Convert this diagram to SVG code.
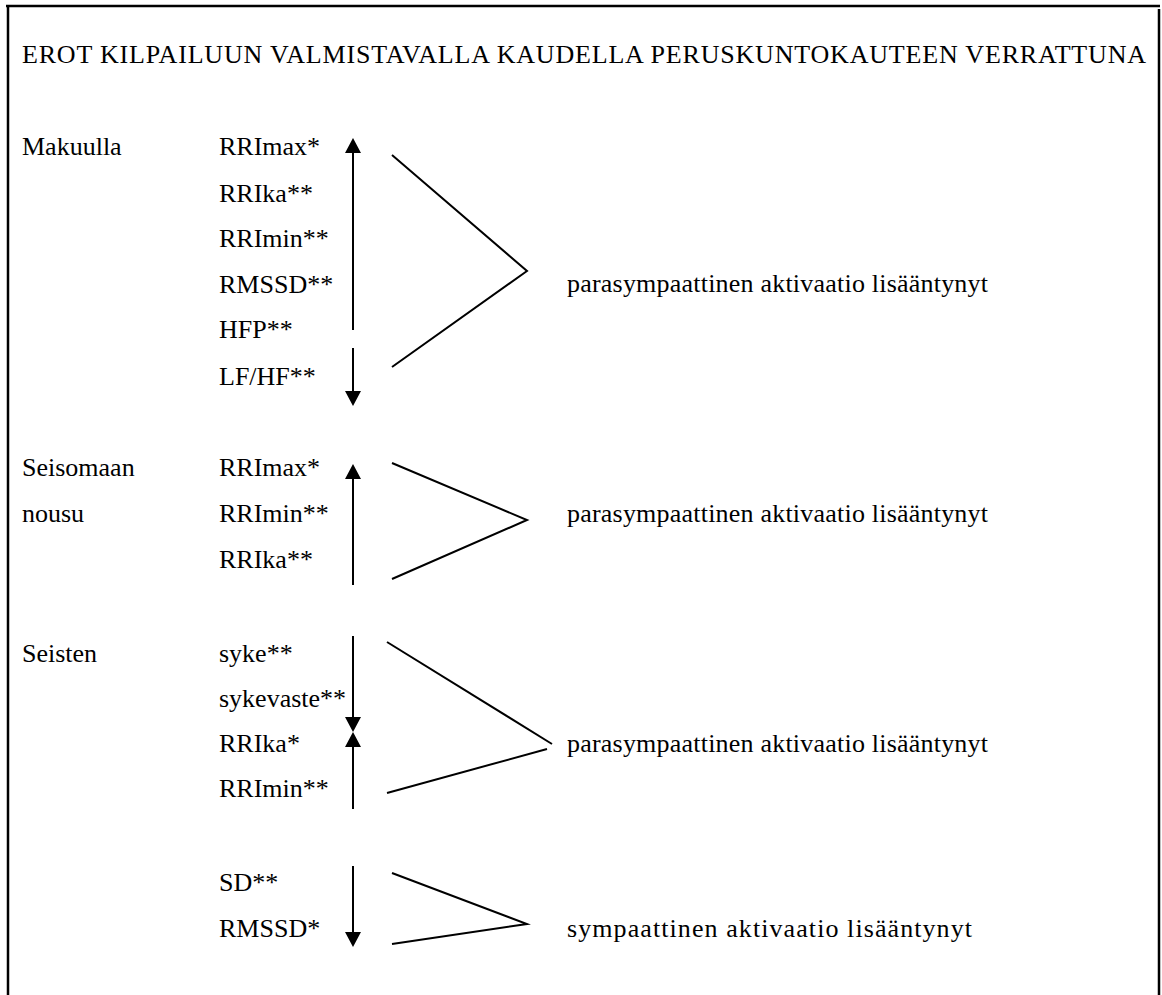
<svg xmlns="http://www.w3.org/2000/svg" width="1162" height="995" viewBox="0 0 1162 995">
<style>
.ln{stroke:#000;stroke-width:2;fill:none}
.bd{stroke:#000;stroke-width:2.5;fill:none}
.hd{fill:#000;stroke:none}
text{font-family:"Liberation Serif","Times New Roman",serif;font-size:26px;fill:#000}
</style>
<rect width="1162" height="995" fill="#fff"/>
<g id="frame">
<path class="bd" d="M6 6 H1160"/>
<path class="bd" d="M8 7 V995"/>
<path class="bd" d="M1159 9 V995"/>
</g>
<g id="title"><text x="22" y="63" textLength="1124">EROT KILPAILUUN VALMISTAVALLA KAUDELLA PERUSKUNTOKAUTEEN VERRATTUNA</text></g>
<g id="makuulla">
<text x="22" y="155">Makuulla</text>
<text x="219" y="155">RRImax*</text>
<text x="219" y="202">RRIka**</text>
<text x="219" y="247">RRImin**</text>
<text x="219" y="293">RMSSD**</text>
<text x="219" y="338">HFP**</text>
<text x="219" y="385">LF/HF**</text>
<text x="567" y="292" textLength="421">parasympaattinen aktivaatio lisääntynyt</text>
</g>
<g id="seisomaan">
<text x="22" y="476">Seisomaan</text>
<text x="22" y="522">nousu</text>
<text x="219" y="476">RRImax*</text>
<text x="219" y="522">RRImin**</text>
<text x="219" y="568">RRIka**</text>
<text x="567" y="522" textLength="421">parasympaattinen aktivaatio lisääntynyt</text>
</g>
<g id="seisten">
<text x="22" y="662">Seisten</text>
<text x="219" y="662">syke**</text>
<text x="219" y="707">sykevaste**</text>
<text x="219" y="752">RRIka*</text>
<text x="219" y="797">RRImin**</text>
<text x="567" y="752" textLength="421">parasympaattinen aktivaatio lisääntynyt</text>
</g>
<g id="sympaattinen">
<text x="219" y="891">SD**</text>
<text x="219" y="937">RMSSD*</text>
<text x="567" y="937" textLength="405">sympaattinen aktivaatio lisääntynyt</text>
</g>
<g id="connectors">
<path class="ln" d="M353 152 V330"/>
<polygon class="hd" points="353,138 345,153 361,153"/>
<path class="ln" d="M353 348 V392"/>
<polygon class="hd" points="353,406 345,391 361,391"/>
<path class="ln" d="M392 155 L527 271 L392 367"/>
<path class="ln" d="M353 478 V585"/>
<polygon class="hd" points="353,464 345,479 361,479"/>
<path class="ln" d="M392 463 L527 520 L392 579"/>
<path class="ln" d="M353 636 V718"/>
<polygon class="hd" points="353,732 345,717 361,717"/>
<path class="ln" d="M353 746 V809"/>
<polygon class="hd" points="353,732 345,747 361,747"/>
<path class="ln" d="M387 642 L552 744"/>
<path class="ln" d="M387 793 L547 749"/>
<path class="ln" d="M353 866 V933"/>
<polygon class="hd" points="353,947 345,932 361,932"/>
<path class="ln" d="M392 873 L527 924 L392 944"/>
</g>
</svg>
